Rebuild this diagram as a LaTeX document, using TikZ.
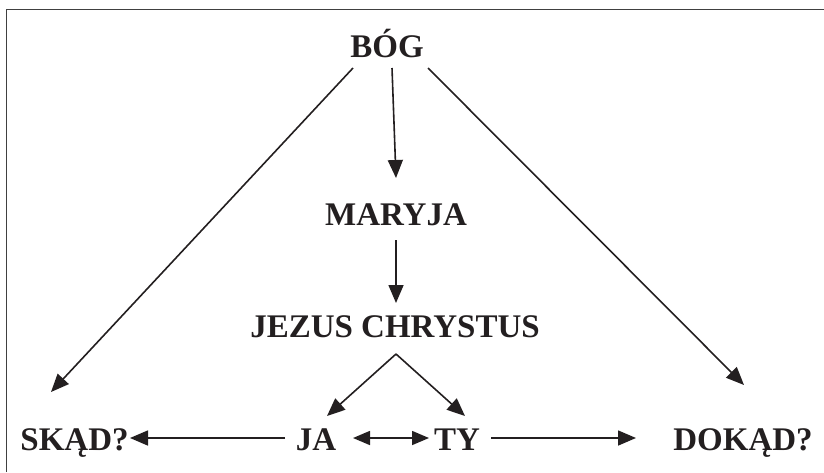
\documentclass[tikz,border=0pt]{standalone}
\usepackage{fontspec}
\setmainfont{Liberation Serif}
\usetikzlibrary{arrows.meta,calc}
\definecolor{ink}{HTML}{231F20}
\begin{document}
\begin{tikzpicture}[x=1pt,y=-1pt,
  lbl/.style={inner sep=0pt,anchor=base,text=ink,font=\bfseries\fontsize{33}{38}\selectfont},
  arr/.style={draw=ink,line width=1.6pt,-{Triangle[length=18pt,width=15pt]}},
  darr/.style={draw=ink,line width=1.6pt,{Triangle[length=17pt,width=14pt]}-{Triangle[length=17pt,width=14pt]}},
  frame/.style={draw=black!75,line width=1.6pt}]
\useasboundingbox (0,0) rectangle (824,472);
\draw[frame] (6.5,472) -- (6.5,9.5) -- (824,9.5);
\node[lbl] (bog) at (387,57) {BÓG};
\node[lbl] (maryja) at (396,225) {MARYJA};
\node[lbl] (jezus) at (395,337) {JEZUS CHRYSTUS};
\node[lbl] (skad) at (74.5,450) {SKĄD?};
\node[lbl] (ja) at (316,450) {JA};
\node[lbl] (ty) at (457,450) {TY};
\node[lbl] (dokad) at (743,450) {DOKĄD?};
% from BOG
\draw[arr] ($(bog.base)+(-34,11)$) -- ($(skad.base)+(-23.5,-58)$);
\draw[arr] ($(bog.base)+(5,11)$) -- ($(maryja.base)+(0,-47)$);
\draw[arr] ($(bog.base)+(41,11)$) -- ($(dokad.base)+(1,-65)$);
% MARYJA -> JEZUS
\draw[arr] ($(maryja.base)+(0,15)$) -- ($(jezus.base)+(1,-34)$);
% JEZUS -> JA, TY
\coordinate (apex) at ($(jezus.base)+(1,17)$);
\draw[arr] (apex) -- ($(ja.base)+(11,-34)$);
\draw[arr] (apex) -- ($(ty.base)+(8,-34)$);
% bottom row
\draw[arr] ($(ja.base)+(-31,-12)$) -- ($(skad.base)+(55.5,-12)$);
\draw[darr] ($(ja.base)+(37,-12)$) -- ($(ty.base)+(-28,-12)$);
\draw[arr] ($(ty.base)+(34,-12)$) -- ($(dokad.base)+(-107,-12)$);
\end{tikzpicture}
\end{document}
